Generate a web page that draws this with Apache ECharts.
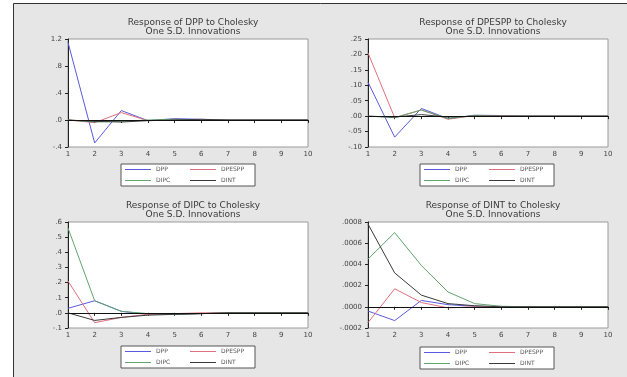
<!DOCTYPE html>
<html>
<head>
<meta charset="utf-8">
<script src="https://cdn.jsdelivr.net/npm/echarts@6/dist/echarts.min.js"></script>
<style>
  html, body { margin: 0; padding: 0; background: #fff; }
  #chart { width: 627px; height: 377px; }
</style>
</head>
<body>
<div id="chart"></div>
<script>
// periods on the x axis
const periods = ["1", "2", "3", "4", "5", "6", "7", "8", "9", "10"];
const shockNames = ["DPP", "DPESPP", "DIPC", "DINT"];
const titles = ["DPP", "DPESPP", "DIPC", "DINT"];

// response of DPP
const dppDpp = [1.15, -0.34, 0.14, -0.01, 0.02, 0.01, 0.0, 0.0, 0.0, 0.0];
const dppDpespp = [0.0, -0.04, 0.11, -0.01, 0.01, 0.0, 0.0, 0.0, 0.0, 0.0];
const dppDipc = [0.0, -0.03, -0.02, 0.0, 0.01, 0.0, 0.0, 0.0, 0.0, 0.0];
const dppDint = [0.0, -0.02, -0.03, -0.01, 0.0, 0.01, 0.0, 0.0, 0.0, 0.0];

// response of DPESPP
const dpesppDpp = [0.11, -0.068, 0.025, -0.008, 0.003, 0.002, 0.0, 0.0, 0.0, 0.0];
const dpesppDpespp = [0.205, -0.005, 0.02, -0.01, 0.002, 0.001, 0.0, 0.0, 0.0, 0.0];
const dpesppDipc = [0.0, -0.005, 0.02, -0.008, 0.002, 0.0, 0.0, 0.0, 0.0, 0.0];
const dpesppDint = [0.0, -0.003, 0.005, -0.003, 0.0, 0.0, 0.0, 0.0, 0.0, 0.0];

// response of DIPC
const dipcDpp = [0.03, 0.08, 0.01, -0.01, -0.01, -0.005, 0.0, 0.0, 0.0, 0.0];
const dipcDpespp = [0.21, -0.065, -0.03, -0.01, -0.005, 0.0, 0.0, 0.0, 0.0, 0.0];
const dipcDipc = [0.56, 0.08, 0.01, -0.005, -0.01, -0.005, 0.0, 0.0, 0.0, 0.0];
const dipcDint = [0.0, -0.05, -0.03, -0.015, -0.01, -0.005, 0.0, 0.0, 0.0, 0.0];

// response of DINT
const dintDpp = [-0.00004, -0.00013, 0.00006, 0.00002, 0.000005, 0.0, 0.0, 0.0, 0.0, 0.0];
const dintDpespp = [-0.00015, 0.00017, 0.00004, -0.00001, 0.0, 0.0, 0.0, 0.0, 0.0, 0.0];
const dintDipc = [0.00045, 0.0007, 0.00039, 0.00014, 0.00003, 0.000005, 0.0, 0.0, 0.0, 0.0];
const dintDint = [0.00078, 0.00032, 0.00011, 0.00003, 0.00001, 0.0, 0.0, 0.0, 0.0, 0.0];

// y tick values and labels per panel
const yTicks1 = [-0.4, 0.0, 0.4, 0.8, 1.2];
const yLabels1 = ["-.4", ".0", ".4", ".8", "1.2"];
const yTicks2 = [-0.10, -0.05, 0.0, 0.05, 0.10, 0.15, 0.20, 0.25];
const yLabels2 = ["-.10", "-.05", ".00", ".05", ".10", ".15", ".20", ".25"];
const yTicks3 = [-0.1, 0.0, 0.1, 0.2, 0.3, 0.4, 0.5, 0.6];
const yLabels3 = ["-.1", ".0", ".1", ".2", ".3", ".4", ".5", ".6"];
const yTicks4 = [-0.0002, 0.0, 0.0002, 0.0004, 0.0006, 0.0008];
const yLabels4 = ["-.0002", ".0000", ".0002", ".0004", ".0006", ".0008"];

const panels = [
  { data: [dppDpp, dppDpespp, dppDipc, dppDint], ticks: yTicks1, labels: yLabels1 },
  { data: [dpesppDpp, dpesppDpespp, dpesppDipc, dpesppDint], ticks: yTicks2, labels: yLabels2 },
  { data: [dipcDpp, dipcDpespp, dipcDipc, dipcDint], ticks: yTicks3, labels: yLabels3 },
  { data: [dintDpp, dintDpespp, dintDipc, dintDint], ticks: yTicks4, labels: yLabels4 },
];

const colors = ["#5a5ae0", "#e0707e", "#5fa56e", "#3a3a3a"];
const boxes = [
  { left: 68, top: 39, height: 108, legendLeft: 121, legendTop: 164 },
  { left: 368, top: 39, height: 108, legendLeft: 420, legendTop: 164 },
  { left: 68, top: 222, height: 106, legendLeft: 121, legendTop: 346 },
  { left: 368, top: 222, height: 106, legendLeft: 420, legendTop: 347 },
];
const plotWidth = 240;
const fontFamily = "DejaVu Sans, Liberation Sans, sans-serif";

const chart = echarts.init(document.getElementById("chart"));

const grid = [];
const xAxis = [];
const yAxis = [];
const series = [];
const legend = [];
const title = [];

panels.forEach((p, i) => {
  const b = boxes[i];
  grid.push({
    left: b.left, top: b.top, width: plotWidth, height: b.height,
    show: true, backgroundColor: "#fff", borderColor: "#9a9a9a", borderWidth: 1,
  });
  xAxis.push({
    type: "category", gridIndex: i, data: periods, boundaryGap: false,
    axisLine: { lineStyle: { color: "#222" } },
    axisTick: { length: 3, lineStyle: { color: "#222" } },
    axisLabel: { fontSize: 7, color: "#444", margin: 4, fontFamily },
    splitLine: { show: false },
  });
  const step = p.ticks[1] - p.ticks[0];
  yAxis.push({
    type: "value", gridIndex: i,
    min: p.ticks[0], max: p.ticks[p.ticks.length - 1], interval: step,
    axisLine: { show: true, lineStyle: { color: "#222" } },
    axisTick: { show: true, length: 3, lineStyle: { color: "#222" } },
    axisLabel: {
      fontSize: 7, color: "#444", margin: 6, fontFamily,
      formatter: (v) => {
        const k = Math.round((v - p.ticks[0]) / step);
        return p.labels[k] ?? "";
      },
    },
    splitLine: { show: false },
  });
  p.data.forEach((vals, j) => {
    const s = {
      name: shockNames[j], type: "line", xAxisIndex: i, yAxisIndex: i,
      data: vals, symbol: "none", smooth: false,
      lineStyle: { width: 1, color: colors[j] }, itemStyle: { color: colors[j] },
      z: 3,
    };
    if (j === 3) {
      s.markLine = {
        silent: true, symbol: "none", label: { show: false },
        lineStyle: { color: "#111", width: 1, type: "solid" },
        data: [{ yAxis: 0 }],
      };
    }
    series.push(s);
  });
  legend.push({
    data: shockNames, left: b.legendLeft, top: b.legendTop, width: 128,
    orient: "horizontal", itemGap: 4, itemWidth: 26, itemHeight: 1, icon: "rect",
    padding: [2, 4, 2, 4], borderColor: "#555", borderWidth: 1, backgroundColor: "#fff",
    textStyle: { fontSize: 6, color: "#555", width: 30, fontFamily, lineHeight: 7 },
    selectedMode: false,
  });
  title.push({
    text: "Response of " + titles[i] + " to Cholesky\nOne S.D. Innovations",
    left: b.left + plotWidth / 2, top: b.top - 26, textAlign: "center",
    textStyle: { fontSize: 9, fontWeight: "normal", color: "#3a3a3a", lineHeight: 9, fontFamily },
  });
});

chart.setOption({
  animation: false,
  backgroundColor: "#fff",
  graphic: [
    {
      type: "rect", z: -10, silent: true,
      shape: { x: 13.5, y: 3.5, width: 620, height: 380 },
      style: { fill: "#e6e6e6", stroke: "#333", lineWidth: 1 },
    },
  ],
  title, grid, xAxis, yAxis, legend, series,
});
</script>
</body>
</html>
